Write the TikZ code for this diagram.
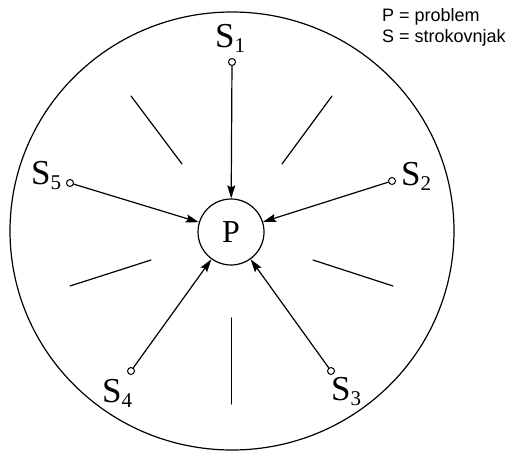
\documentclass[tikz,border=0pt]{standalone}
\usepackage{fontspec}
\setmainfont{Liberation Serif}
\newfontfamily\legendfont{Liberation Sans}
\usetikzlibrary{arrows.meta}
\newcommand{\slab}[1]{{\fontsize{35}{35}\selectfont S\raisebox{-5pt}{\fontsize{21}{21}\selectfont #1}}}
\tikzset{
  ln/.style={line width=1.2pt, line cap=round},
  dot/.style={circle, draw, line width=1pt, fill=white, minimum size=7pt, inner sep=0pt},
  arr/.style={ln, -{Stealth[length=13pt, width=8pt, inset=2pt]}},
  lab/.style={anchor=base west, inner sep=0pt},
  leg/.style={anchor=base west, inner sep=0pt, font=\legendfont\fontsize{18}{18}\selectfont},
}
\begin{document}
\begin{tikzpicture}[x=1pt, y=-1pt]
\useasboundingbox (0,0) rectangle (510,452);
% outer circle
\draw[ln] (232,231) ellipse [x radius=222, y radius=219];
% centre
\node[circle, draw, line width=1.2pt, minimum size=66pt, inner sep=0pt, font=\fontsize{32}{32}\selectfont] (P) at (231,232) {P};
% experts
\node[dot] (s1) at (232,62) {};
\node[dot] (s2) at (392,181) {};
\node[dot] (s3) at (331,371) {};
\node[dot] (s4) at (131,371) {};
\node[dot] (s5) at (70,183) {};
\node[lab] (l1) at (215,48) {\slab{1}};
\node[lab] (l2) at (401,185) {\slab{2}};
\node[lab] (l3) at (331,400) {\slab{3}};
\node[lab] (l4) at (102,402) {\slab{4}};
\node[lab] (l5) at (31,184) {\slab{5}};
% arrows
\draw[arr] (s1) -- (P);
\draw[arr] (s2) -- (P);
\draw[arr] (s3) -- (P);
\draw[arr] (s4) -- (P);
\draw[arr] (s5) -- (P);
% separating lines
\draw[ln] (131,96) -- (182,164);
\draw[ln] (332,96) -- (282,164);
\draw[ln] (70,286) -- (151,260);
\draw[ln] (313,260) -- (393,286);
\draw[ln] (231.5,318) -- (231.5,404);
% legend
\node[leg] (lg1) at (382,22) {P = problem};
\node[leg] (lg2) at (382,42) {S = strokovnjak};
\end{tikzpicture}
\end{document}
